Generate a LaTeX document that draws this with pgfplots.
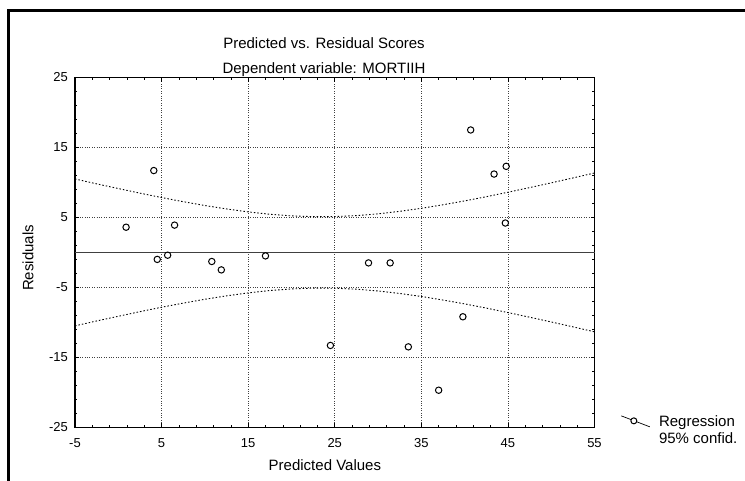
\documentclass[border=0pt]{standalone}
\usepackage{fontspec}
\setmainfont{Liberation Sans}
\usepackage{pgfplots}
\pgfplotsset{compat=1.18}
\begin{document}
\begin{tikzpicture}
\begin{axis}[
  at={(75pt,52.7pt)}, anchor=south west, scale only axis,
  width=519.5pt, height=349.8pt,
  xmin=-5, xmax=55, ymin=-25, ymax=25,
  xtick={-5,5,...,55}, ytick={-25,-15,...,25},
  minor x tick num=4, minor y tick num=4,
  tick align=inside, major tick length=4pt, minor tick length=2.5pt,
  xmajorgrids, ymajorgrids,
  grid style={dotted, black!75, line width=0.6pt},
  axis line style={line width=1.1pt},
  every tick/.style={black, line width=0.6pt},
  /pgf/number format/assume math mode=true,
  tick label style={font=\fontsize{13}{15}\selectfont},
  xticklabel style={anchor=north, inner sep=0pt, yshift=-11pt},
  yticklabel style={anchor=east, inner sep=0pt, xshift=-7pt},
  xlabel={Predicted Values}, ylabel={Residuals},
  label style={font=\fontsize{15}{18}\selectfont, inner sep=0pt},
  xlabel style={at={(axis description cs:0.481,0)}, anchor=base, yshift=-42.7pt},
  ylabel style={at={(axis description cs:-0.0905,0.484)}, anchor=center},
  clip=false,
  legend style={draw=none, fill=none, at={(axis description cs:1.0504,0.041)}, anchor=north west,
    font=\fontsize{15}{16}\selectfont, inner sep=0pt, row sep=1pt},
  legend cell align=left,
]
\addplot[forget plot, black!75, line width=1.3pt] coordinates {(-5,0) (55,0)};
\addplot[forget plot, black, line width=0.9pt, dash pattern=on 1.5pt off 2pt] coordinates {
(-5,10.50) (-2.5,9.80) (0,9.13) (2.5,8.47) (5,7.84) (7.5,7.25) (10,6.70) (12.5,6.21)
(15,5.79) (17.5,5.45) (20,5.22) (22.5,5.11) (25,5.12) (27.5,5.26) (30,5.51) (32.5,5.87)
(35,6.30) (37.5,6.81) (40,7.36) (42.5,7.96) (45,8.60) (47.5,9.26) (50,9.94) (52.5,10.64) (55,11.35)};
\addplot[forget plot, black, line width=0.9pt, dash pattern=on 1.5pt off 2pt] coordinates {
(-5,-10.50) (-2.5,-9.80) (0,-9.13) (2.5,-8.47) (5,-7.84) (7.5,-7.25) (10,-6.70) (12.5,-6.21)
(15,-5.79) (17.5,-5.45) (20,-5.22) (22.5,-5.11) (25,-5.12) (27.5,-5.26) (30,-5.51) (32.5,-5.87)
(35,-6.30) (37.5,-6.81) (40,-7.36) (42.5,-7.96) (45,-8.60) (47.5,-9.26) (50,-9.94) (52.5,-10.64) (55,-11.35)};
\addplot[forget plot, only marks, mark=o, mark size=3.2pt, mark options={fill=white, line width=1pt, black}] coordinates {
(0.9,3.6) (4.1,11.7) (4.5,-1.0) (5.7,-0.4) (6.5,3.9) (10.8,-1.3) (11.9,-2.5) (17.0,-0.5)
(24.5,-13.3) (28.9,-1.5) (31.4,-1.5) (33.5,-13.5) (37.0,-19.7) (39.8,-9.2)
(40.7,17.5) (43.4,11.2) (44.8,12.3) (44.7,4.2)};
\addlegendimage{legend image code/.code={
  \draw[black, line width=0.7pt] (0pt,5.5pt) -- (28.6pt,-5.5pt);
  \draw[black, line width=1pt, fill=white] (12.6pt,0.5pt) circle (3pt);
  \path (35.6pt,0pt);}}
\addlegendentry{Regression}
\addlegendimage{empty legend}
\addlegendentry{95\% confid.}
\end{axis}
\draw[line width=3pt] (8.5pt,-10pt) -- (8.5pt,469pt) -- (760pt,469pt);
\node[anchor=base, inner sep=0pt, font=\fontsize{15}{18}\selectfont] at (324pt,431pt) {Predicted vs. Residual Scores};
\node[anchor=base, inner sep=0pt, font=\fontsize{15}{18}\selectfont] at (324pt,406pt) {Dependent variable: MORTIIH};
\pgfresetboundingbox
\path[use as bounding box] (0pt,0pt) rectangle (745pt,480pt);
\end{tikzpicture}
\end{document}
